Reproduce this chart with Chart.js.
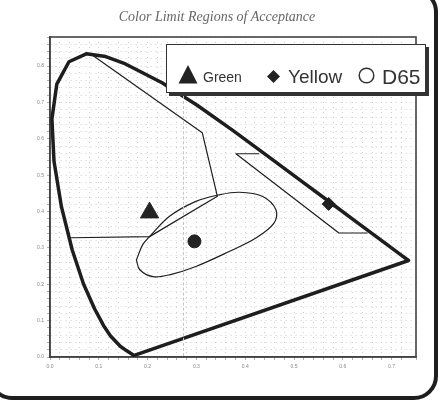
<!DOCTYPE html>
<html>
<head>
<meta charset="utf-8">
<title>Color Limit Regions of Acceptance</title>
<script src="https://cdn.jsdelivr.net/npm/chart.js@4/dist/chart.umd.min.js"></script>
<style>
  html, body { margin: 0; padding: 0; background: #fff; overflow: hidden; }
  #wrap { position: relative; width: 445px; height: 400px; }
  #frame { position: absolute; left: -12px; top: -12px; width: 450px; height: 412px; box-sizing: border-box;
           border: 4px solid #1e1e1e; border-radius: 24px; }
  #title { position: absolute; left: 0; top: 10px; width: 434px; text-align: center;
           font: italic 14px/14px "Liberation Serif", serif; color: #666; }
  #fold { position: absolute; left: 183px; top: 96px; height: 260px; border-left: 1px dashed #c4c4c4; }
  #legend { position: absolute; left: 166px; top: 44px; width: 260px; height: 49px; box-sizing: border-box;
            background: #fff; border: 1.5px solid #333; box-shadow: 3px 3px 0 #333; }
  .lab { position: absolute; font-family: "Liberation Sans", Arial, sans-serif; color: #333; white-space: nowrap; }
  .mk { position: absolute; }
  canvas { position: absolute; left: 0; top: 0; }
</style>
</head>
<body>
<div id="wrap">
  <canvas id="chart" width="445" height="400"></canvas>
  <div id="fold"></div>
  <div id="title">Color Limit Regions of Acceptance</div>
  <div id="legend"></div>
  <div id="frame"></div>
</div>
<script>
// spectral locus (thick outline), closed by the purple line
const locusX = [0.1741, 0.1714, 0.1644, 0.1566, 0.1440, 0.1241, 0.1096, 0.0913, 0.0687, 0.0454, 0.0235, 0.0082, 0.0039, 0.0139, 0.0389, 0.0743, 0.1142, 0.1547, 0.2296, 0.3016, 0.3731, 0.4441, 0.5125, 0.5752, 0.6270, 0.6915, 0.7190, 0.7347, 0.1741];
const locusY = [0.0050, 0.0051, 0.0109, 0.0177, 0.0297, 0.0578, 0.0868, 0.1327, 0.2007, 0.2950, 0.4127, 0.5384, 0.6548, 0.7502, 0.8120, 0.8338, 0.8262, 0.8059, 0.7543, 0.6923, 0.6245, 0.5547, 0.4866, 0.4242, 0.3725, 0.3083, 0.2809, 0.2653, 0.0050];

// green region border
const greenX = [0.085, 0.312, 0.343, 0.204, 0.044];
const greenY = [0.832, 0.617, 0.442, 0.331, 0.328];

// yellow region border
const yellowX = [0.428, 0.381, 0.592, 0.650];
const yellowY = [0.559, 0.559, 0.341, 0.341];

// white (D65) acceptance ellipse
const whiteX = [0.177, 0.190, 0.204, 0.245, 0.299, 0.347, 0.388, 0.435, 0.463, 0.459, 0.422, 0.367, 0.299, 0.245, 0.211, 0.184, 0.177];
const whiteY = [0.267, 0.309, 0.331, 0.387, 0.428, 0.446, 0.453, 0.442, 0.405, 0.368, 0.327, 0.290, 0.249, 0.226, 0.221, 0.240, 0.267];

// measured points
const pointNames = ["Green", "Yellow", "D65"];
const pointX = [0.204, 0.571, 0.296];
const pointY = [0.397, 0.421, 0.318];

const xMin = 0, xMax = 0.75, yMin = 0, yMax = 0.88, gridStep = 0.02;

function pts(xs, ys) {
  return xs.map((x, i) => ({ x: x, y: ys[i] }));
}

function lineSet(label, xs, ys, width, tension) {
  return {
    label: label, data: pts(xs, ys), showLine: true, borderColor: "#1e1e1e", borderWidth: width,
    pointRadius: 0, tension: tension || 0, borderJoinStyle: "round", borderCapStyle: "round", fill: false
  };
}

function markSet(i, style, r) {
  return {
    label: pointNames[i], data: [{ x: pointX[i], y: pointY[i] }], pointStyle: style, pointRadius: r,
    backgroundColor: "#222", borderColor: "#222", borderWidth: 1, showLine: false
  };
}

const frameBox = {
  id: "frameBox",
  beforeDatasetsDraw(chart) {
    const a = chart.chartArea, ctx = chart.ctx;
    ctx.save();
    ctx.strokeStyle = "#444";
    ctx.lineWidth = 1.6;
    ctx.strokeRect(a.left, a.top, a.right - a.left, a.bottom - a.top);
    ctx.restore();
  }
};

function tickLabel(v) {
  const t = v * 10;
  return Math.abs(t - Math.round(t)) < 1e-6 ? v.toFixed(1) : "";
}

const ctx = document.getElementById("chart").getContext("2d");
new Chart(ctx, {
  type: "scatter",
  data: {
    datasets: [
      lineSet("locus", locusX, locusY, 3.5),
      lineSet("green region", greenX, greenY, 1.2),
      lineSet("yellow region", yellowX, yellowY, 1.2),
      lineSet("white region", whiteX, whiteY, 1.2, 0.35),
      markSet(0, "triangle", 10.5),
      markSet(1, "rectRot", 6.5),
      markSet(2, "circle", 6.5)
    ]
  },
  options: {
    responsive: false,
    animation: false,
    layout: { padding: { top: 37, right: 29, left: 0, bottom: 0 } },
    plugins: { legend: { display: false }, title: { display: false }, tooltip: { enabled: false } },
    scales: {
      x: {
        type: "linear", min: xMin, max: xMax,
        afterFit(s) { s.height = 43; },
        grid: { color: "#c2c2c2", lineWidth: 0.8, tickLength: 3, tickColor: "#999" },
        border: { dash: [1, 4], color: "#444", width: 1.6 },
        ticks: { stepSize: gridStep, autoSkip: false, maxRotation: 0, padding: 4, color: "#888",
                 font: { family: "Liberation Sans", size: 5 }, callback: tickLabel }
      },
      y: {
        type: "linear", min: yMin, max: yMax,
        afterFit(s) { s.width = 50; },
        grid: { color: "#c2c2c2", lineWidth: 0.8, tickLength: 3, tickColor: "#999" },
        border: { dash: [1, 4], color: "#444", width: 1.6 },
        ticks: { stepSize: gridStep, autoSkip: false, padding: 3, color: "#888",
                 font: { family: "Liberation Sans", size: 5 }, callback: tickLabel }
      }
    }
  },
  plugins: [frameBox]
});

// legend: marker shapes and labels, placed relative to the legend box
const legend = document.getElementById("legend");
const legendItems = [
  { svg: '<svg width="20" height="19"><polygon points="10,0 19.5,18.5 0.5,18.5" fill="#222"/></svg>', mx: 11, my: 20,
    text: pointNames[0], tx: 36, size: 14, base: 37 },
  { svg: '<svg width="13" height="13"><polygon points="6.5,0 13,6.5 6.5,13 0,6.5" fill="#222"/></svg>', mx: 100, my: 24,
    text: pointNames[1], tx: 121, size: 19, base: 38 },
  { svg: '<svg width="17" height="17"><circle cx="8.5" cy="8.5" r="7.3" fill="none" stroke="#333" stroke-width="1.5"/></svg>', mx: 191, my: 22,
    text: pointNames[2], tx: 215, size: 21, base: 39 }
];
legendItems.forEach(it => {
  const m = document.createElement("div");
  m.className = "mk";
  m.style.left = it.mx + "px";
  m.style.top = it.my + "px";
  m.innerHTML = it.svg;
  legend.appendChild(m);
  const l = document.createElement("div");
  l.className = "lab";
  l.textContent = it.text;
  l.style.left = it.tx + "px";
  l.style.fontSize = it.size + "px";
  l.style.lineHeight = it.size + "px";
  l.style.top = (it.base - 0.8465 * it.size) + "px";
  legend.appendChild(l);
});
</script>
</body>
</html>
